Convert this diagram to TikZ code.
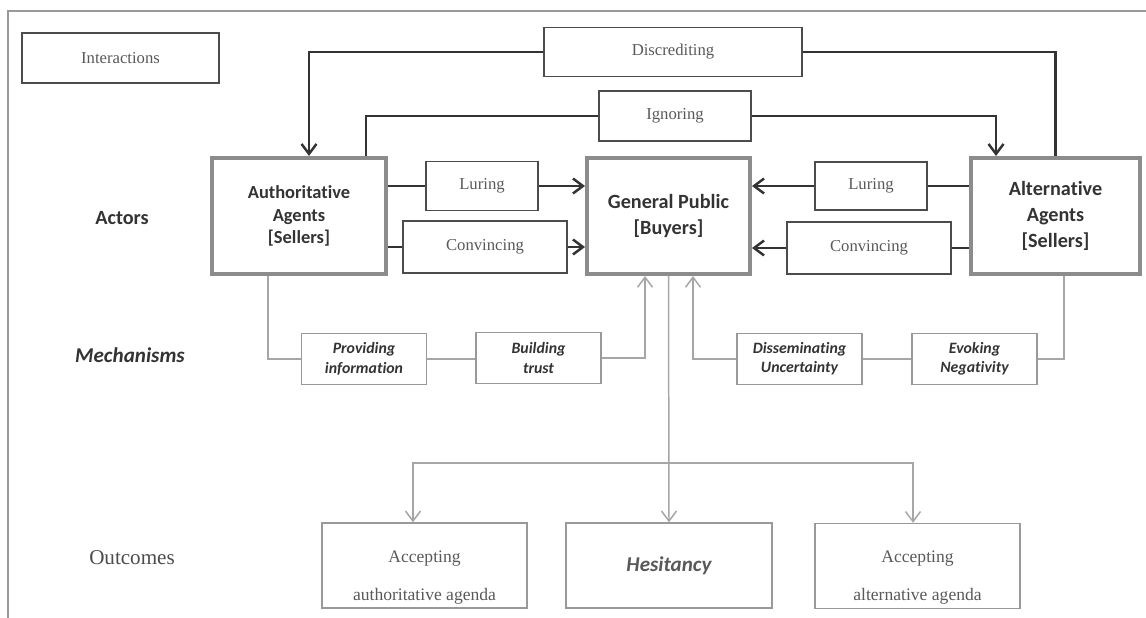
\documentclass[tikz,border=0pt]{standalone}
\usepackage{fontspec}
\setmainfont{Liberation Serif}
\newfontfamily\calib[Ligatures=NoCommon]{Carlito}
\usetikzlibrary{arrows.meta}

\begin{document}
\begin{tikzpicture}[x=0.02cm, y=-0.02cm,
    >={Straight Barb[length=2mm,width=3mm]},
    inter/.style={draw=black!70, line width=0.85pt, text=black!65,
        font=\fontsize{9.5}{11}\selectfont, inner sep=0pt},
    actor/.style={draw=black!45, line width=2.3pt, text=black!80, align=center,
        minimum height=2.32cm, inner sep=0pt},
    mechbox/.style={draw=black!40, line width=0.85pt, text=black!80, align=center,
        font=\calib\bfseries\itshape\fontsize{9}{11}\selectfont,
        minimum width=2.5cm, minimum height=1.03cm, inner sep=0pt},
    outbox/.style={draw=black!40, line width=0.85pt, text=black!65, align=center,
        minimum width=4.1cm, minimum height=1.7cm, inner sep=0pt},
    rowlabel/.style={text=black!80},
    link/.style={draw=black!80, line width=1.4pt},
    mlink/.style={draw=black!35, line width=0.85pt}]

    \useasboundingbox (0,0) rectangle (1146,618);
    \draw[black!40, line width=0.6pt] (8,618) -- (8,11) -- (1146,11);

    % row labels
    \node[inter, minimum width=3.94cm, minimum height=1cm] (interactions) at (120.5,58) {Interactions};
    \node[rowlabel, font=\calib\bfseries\fontsize{11.5}{13}\selectfont] (actors) at (122,218) {Actors};
    \node[rowlabel, font=\calib\bfseries\itshape\fontsize{12}{14}\selectfont] (mechanisms) at (130,355) {Mechanisms};
    \node[text=black!70, font=\fontsize{12}{14}\selectfont] (outcomes) at (132,558) {Outcomes};

    % actors
    \node[actor, minimum width=3.48cm, font=\calib\bfseries\fontsize{10.5}{12.8}\selectfont] (auth) at (299,216)
        {Authoritative\\Agents\\{[Sellers]}};
    \node[actor, minimum width=3.26cm, font=\calib\bfseries\fontsize{11.5}{15}\selectfont] (gp) at (668.5,216)
        {General Public\\{[Buyers]}};
    \node[actor, minimum width=3.38cm, font=\calib\bfseries\fontsize{11.5}{14.7}\selectfont] (alt) at (1055.5,216)
        {Alternative\\Agents\\{[Sellers]}};

    % interactions
    \node[inter, minimum width=5.16cm, minimum height=0.98cm] (discr) at (673,52) {Discrediting};
    \node[inter, minimum width=3.04cm, minimum height=1cm] (ignor) at (675,116) {Ignoring};
    \node[inter, minimum width=2.24cm, minimum height=0.98cm] (lurL) at (482,186) {Luring};
    \node[inter, minimum width=3.28cm, minimum height=1.04cm] (convL) at (485,247) {Convincing};
    \node[inter, minimum width=2.24cm, minimum height=0.96cm] (lurR) at (871,186) {Luring};
    \node[inter, minimum width=3.28cm, minimum height=1.04cm] (convR) at (869,248) {Convincing};

    \draw[link,->] (discr.west) -| ([xshift=0.2cm]auth.north);
    \draw[link] (discr.east) -| (alt.north);
    \draw[link] (ignor.west) -| ([xshift=1.34cm]auth.north);
    \draw[link,->] (ignor.east) -| ([xshift=-1.19cm]alt.north);
    \draw[link] (auth.east |- lurL.west) -- (lurL.west);
    \draw[link,->] (lurL.east) -- (gp.west |- lurL.east);
    \draw[link] (auth.east |- convL.west) -- (convL.west);
    \draw[link,->] (convL.east) -- (gp.west |- convL.east);
    \draw[link] (alt.west |- lurR.east) -- (lurR.east);
    \draw[link,->] (lurR.west) -- (gp.east |- lurR.west);
    \draw[link] (alt.west |- convR.east) -- (convR.east);
    \draw[link,->] (convR.west) -- (gp.east |- convR.west);

    % mechanisms
    \node[mechbox] (prov) at (364,359) {Providing\\information};
    \node[mechbox] (build) at (538.5,358) {Building\\trust};
    \node[mechbox] (diss) at (799.5,359) {Disseminating\\Uncertainty};
    \node[mechbox] (evok) at (974.5,359) {Evoking\\Negativity};

    \draw[mlink] ([xshift=-0.62cm]auth.south) |- (prov.west);
    \draw[mlink] (prov.east) -- (build.west |- prov.east);
    \draw[mlink,->] (build.east) -| ([xshift=-0.47cm]gp.south);
    \draw[mlink] ([xshift=0.17cm]alt.south) |- (evok.east);
    \draw[mlink] (evok.west) -- (diss.east |- evok.west);
    \draw[mlink,->] (diss.west) -| ([xshift=0.49cm]gp.south);

    % outcomes
    \node[outbox, font=\fontsize{10}{21.5}\selectfont] (accAuth) at (424.5,565.5)
        {\rule{0pt}{20pt}Accepting\\authoritative agenda};
    \node[outbox, minimum width=4.12cm, font=\calib\bfseries\itshape\fontsize{12}{14}\selectfont] (hes) at (669,565.5) {Hesitancy};
    \node[outbox, font=\fontsize{10}{21.5}\selectfont] (accAlt) at (917.5,566)
        {\rule{0pt}{20pt}Accepting\\alternative agenda};
    \coordinate (split) at (669,463);

    \draw[mlink,->] (gp.south) -- (hes.north);
    \draw[mlink,->] (split) -| ([xshift=-0.23cm]accAuth.north);
    \draw[mlink,->] (split) -| ([xshift=-0.09cm]accAlt.north);
\end{tikzpicture}
\end{document}
